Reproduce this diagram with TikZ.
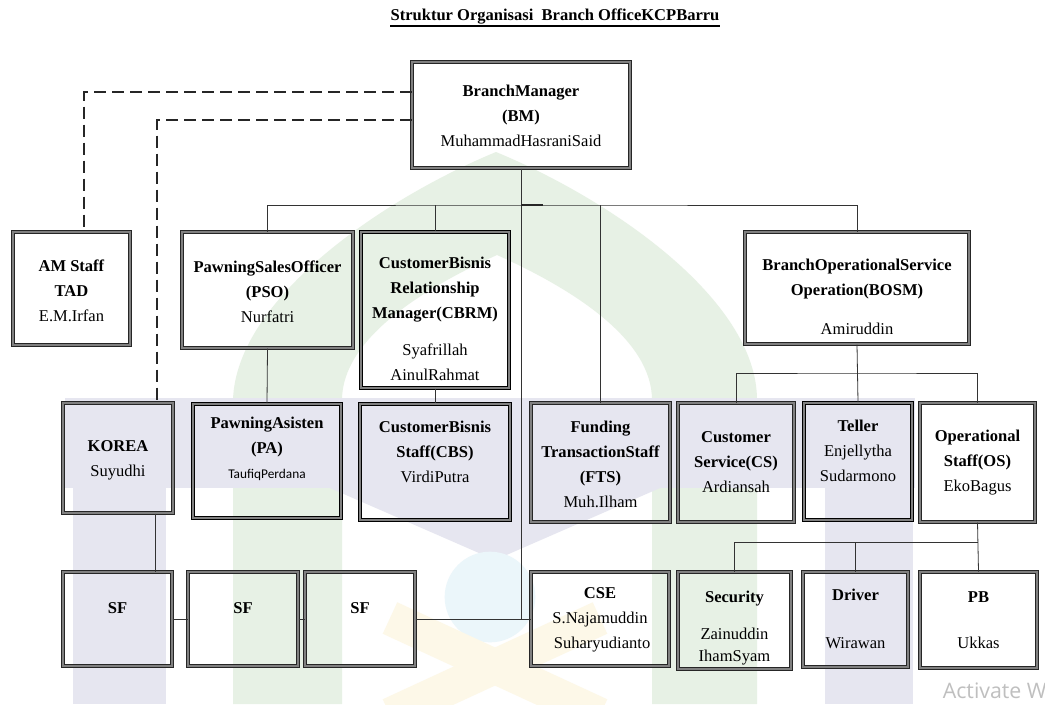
\documentclass[tikz,border=0pt]{standalone}
\usepackage{fontspec}
\setmainfont{Liberation Serif}
\newfontfamily\calibfont{Carlito}
\newfontfamily\winfont{Open Sans}
\usetikzlibrary{calc}
\definecolor{wmlav}{HTML}{E6E6F0}
\definecolor{wmgreen}{HTML}{E7F1E5}
\definecolor{wmyel}{HTML}{FDF8E8}
\definecolor{wmblue}{HTML}{EBF6FA}
\newcommand\orgfs{\fontsize{12.4}{18.75}\selectfont}
\newcommand\mkbox[6]{\node[#6, minimum width={(#4-#2)*0.75pt}, minimum height={(#5-#3)*0.75pt}] (#1) at ({(#2+#4)/2},{(#3+#5)/2}) {};}
\tikzset{
  orgbox/.style={rectangle, draw=black!85, line width=0.75pt, double=black!50, double distance=0.8pt, inner sep=0pt},
  thickbox/.style={orgbox, draw=black, line width=1.4pt},
  conn/.style={draw=black!80, line width=0.6pt},
  dashline/.style={draw=black!85, line width=2.2pt, dash pattern=on 9pt off 4.5pt},
  txt/.style={align=center, font=\orgfs, inner sep=0pt},
}
\begin{document}
\begin{tikzpicture}[x=0.75pt, y=-0.75pt]
\fill[white] (0,0) rectangle (1045,704);
\useasboundingbox (0,0) rectangle (1045,704);
% faint watermark
\fill[wmgreen] (233,704) -- (233,400) .. controls (236,300) and (380,200) .. (496,152) .. controls (612,200) and (757,300) .. (757,400) -- (757,704) -- (652,704) -- (652,400) .. controls (652,340) and (575,290) .. (497,255) .. controls (420,290) and (342,340) .. (342,400) -- (342,704) -- cycle;
\fill[wmlav] (73,398) rectangle (166,704);
\fill[wmlav] (825,398) rectangle (913,704);
\fill[wmlav] (65,398) rectangle (915,488);
\fill[wmlav] (330,488) -- (660,488) -- (495,560) -- cycle;
\fill[wmblue] (490,597) circle (34pt);
\draw[wmyel, line width=26pt] (390,618) -- (600,715);
\draw[wmyel, line width=26pt] (600,618) -- (390,715);
% title
\node[font=\bfseries\fontsize{12.4}{14}\selectfont, inner sep=0pt] (title) at (555,17) {Struktur Organisasi\ \ Branch OfficeKCPBarru};
\draw[line width=1.1pt] ($(title.base west)+(0,5)$) -- ($(title.base east)+(0,5)$);
% boxes
\mkbox{bm}{412}{62}{630}{168}{orgbox}
\mkbox{am}{13}{232}{130}{345}{orgbox}
\mkbox{pso}{182}{232}{353}{348}{orgbox}
\mkbox{cbrm}{361}{232}{509}{388}{thickbox}
\mkbox{bosm}{745}{232}{969}{344}{orgbox}
\mkbox{korea}{63}{403}{173}{513}{orgbox}
\mkbox{pa}{193}{404}{341}{518}{thickbox}
\mkbox{cbs}{360}{404}{510}{520}{thickbox}
\mkbox{fts}{531}{403}{670}{522}{orgbox}
\mkbox{cs}{678}{403}{794}{522}{orgbox}
\mkbox{teller}{804}{403}{912}{520}{thickbox}
\mkbox{os}{920}{403}{1035}{522}{orgbox}
\mkbox{sfa}{63}{572}{172}{666}{orgbox}
\mkbox{sfb}{188}{572}{298}{666}{orgbox}
\mkbox{sfc}{305}{572}{415}{666}{orgbox}
\mkbox{cse}{531}{572}{669}{666}{orgbox}
\mkbox{sec}{678}{572}{791}{669}{orgbox}
\mkbox{drv}{803}{572}{908}{667}{orgbox}
\mkbox{pb}{920}{572}{1037}{668}{orgbox}
% texts
\node[txt] (bmt) at (521,116) {\textbf{BranchManager}\\\textbf{(BM)}\\MuhammadHasraniSaid};
\node[txt] (amt) at (71.5,291) {\textbf{AM Staff}\\\textbf{TAD}\\E.M.Irfan};
\node[txt] (psot) at (267.5,292) {\textbf{PawningSalesOfficer}\\\textbf{(PSO)}\\Nurfatri};
\node[txt] (cbrmt) at (435,319) {\textbf{CustomerBisnis}\\\textbf{Relationship}\\\textbf{Manager(CBRM)}\\[9pt]Syafrillah\\AinulRahmat};
\node[txt] (bosmt) at (857,297) {\textbf{BranchOperationalService}\\\textbf{Operation(BOSM)}\\[11pt]Amiruddin};
\node[txt] (koreat) at (118,460) {\textbf{KOREA}\\Suyudhi};
\node[txt] (pat) at (267,449) {\textbf{PawningAsisten}\\\textbf{(PA)}\\{\calibfont\fontsize{10}{12}\selectfont TaufiqPerdana}};
\node[txt] (cbst) at (435,452) {\textbf{CustomerBisnis}\\\textbf{Staff(CBS)}\\VirdiPutra};
\node[txt] (ftst) at (600.5,464.5) {\textbf{Funding}\\\textbf{TransactionStaff}\\\textbf{(FTS)}\\Muh.Ilham};
\node[txt] (cst) at (736,462) {\textbf{Customer}\\\textbf{Service(CS)}\\Ardiansah};
\node[txt] (tellert) at (858,451) {\textbf{Teller}\\Enjellytha\\Sudarmono};
\node[txt] (ost) at (977.5,462.5) {\textbf{Operational}\\\textbf{Staff(OS)}\\EkoBagus};
\node[txt] (sfat) at (117.5,608) {\textbf{SF}};
\node[txt] (sfbt) at (243,608) {\textbf{SF}};
\node[txt] (sfct) at (360,608) {\textbf{SF}};
\node[txt] (cset) at (600,619.5) {\textbf{CSE}\\S.Najamuddin\\\ Suharyudianto};
\node[txt] (sect) at (734.5,628) {\textbf{Security}\\[9pt]Zainuddin\\[-2pt]IhamSyam};
\node[txt] (drvt) at (855.5,619) {\textbf{Driver}\\[17pt]Wirawan};
\node[txt] (pbt) at (978.5,620) {\textbf{PB}\\[16pt]Ukkas};
\node[font=\winfont\fontsize{16}{18}\selectfont, text=black!25, anchor=east, inner sep=0pt] (act) at (1047,691) {Activate W};
% connectors
\coordinate (busA) at (521,205);
\coordinate (busB) at (857,373);
\coordinate (busC) at (978,542);
\coordinate (xk) at (155,0);
\coordinate (xa) at (84,0);
\coordinate (xb) at (157,0);
\coordinate (ya) at (0,92);
\coordinate (yb) at (0,120);
\draw[conn] (bm.south) |- (cse.west);
\draw[conn] (sfc.east) -- (sfc.east -| bm.south);
\draw[conn] (pso.north) |- (busA) -| (bosm.north);
\draw[line width=1.8pt, black!85] (busA) -- ++(22,0);
\draw[conn] (cbrm.north) -- (cbrm.north |- busA);
\draw[conn] (fts.north) -- (fts.north |- busA);
\draw[conn] (pso.south) -- (pa.north);
\draw[conn] (cbrm.south) -- (cbs.north);
\draw[conn] (bosm.south) -- (teller.north);
\draw[conn] (cs.north) |- (busB) -| (os.north);
\draw[conn] (os.south) -- (pb.north);
\draw[conn] (sec.north) |- (busC);
\draw[conn] (drv.north) -- (drv.north |- busC);
\draw[conn] (korea.south -| xk) -- (sfa.north -| xk);
\draw[conn] (sfa.east) -- (sfb.west);
\draw[conn] (sfb.east) -- (sfc.west);
\draw[dashline] (bm.west |- ya) -| (am.north -| xa);
\draw[dashline] (bm.west |- yb) -| (korea.north -| xb);
\end{tikzpicture}
\end{document}
